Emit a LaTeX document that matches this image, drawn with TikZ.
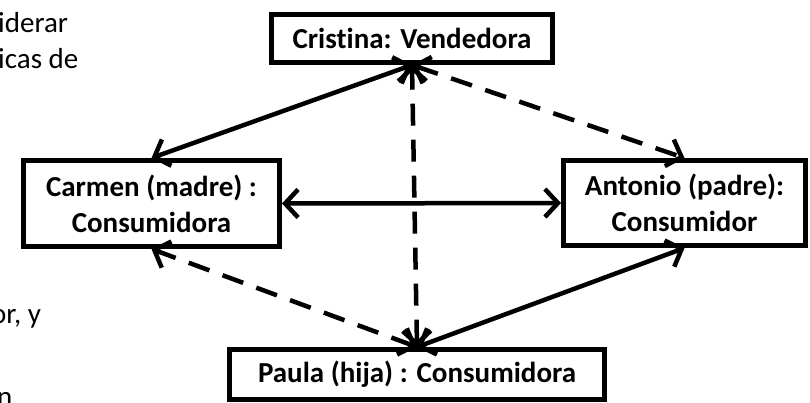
\documentclass[tikz,border=0pt]{standalone}
\usepackage{fontspec}
\setmainfont{Carlito}[Ligatures=NoCommon]
\usetikzlibrary{arrows.meta}
\begin{document}
\begin{tikzpicture}[x=1pt,y=-1pt,
  box/.style={draw, line width=5pt, fill=white, inner sep=0pt,
    font=\bfseries\fontsize{29}{36}\selectfont, align=center},
  conn/.style={line width=4.5pt,
    {Straight Barb[length=13pt,width=28pt]}-{Straight Barb[length=13pt,width=28pt]}},
  dashedconn/.style={conn, dash pattern=on 22pt off 14pt},
  frag/.style={anchor=base west, inner sep=0pt, font=\fontsize{29}{35}\selectfont}]
\useasboundingbox (0,0) rectangle (810,402);
\clip (0,0) rectangle (810,402);
\fill[white] (0,0) rectangle (810,402);
% background text fragments
\node[frag] (f1) at (-2,32) {iderar};
\node[frag] (f2) at (-2,68) {icas de};
\node[frag] (f3) at (-9,323) {or, y};
\node[frag] (f4) at (-3,406) {n};
% boxes
\node[box, minimum width=281pt, minimum height=48pt] (cristina) at (412,38.5) {Cristina: Vendedora};
\node[box, minimum width=256pt, minimum height=86pt] (carmen) at (151.5,203.5) {Carmen (madre) :\\Consumidora};
\node[box, minimum width=242pt, minimum height=85pt] (antonio) at (684.5,203) {Antonio (padre):\\Consumidor};
\node[box, minimum width=375pt, minimum height=50pt] (paula) at (417,374.5) {Paula (hija) : Consumidora};
% connectors
\draw[conn] (carmen.north) -- (cristina.south);
\draw[dashedconn] (cristina.south) -- (antonio.north);
\draw[dashedconn] (paula.north) -- (cristina.south);
\draw[conn] (carmen.east) -- (antonio.west);
\draw[dashedconn] (paula.north) -- (carmen.south);
\draw[conn] (antonio.south) -- (paula.north);
\end{tikzpicture}
\end{document}
